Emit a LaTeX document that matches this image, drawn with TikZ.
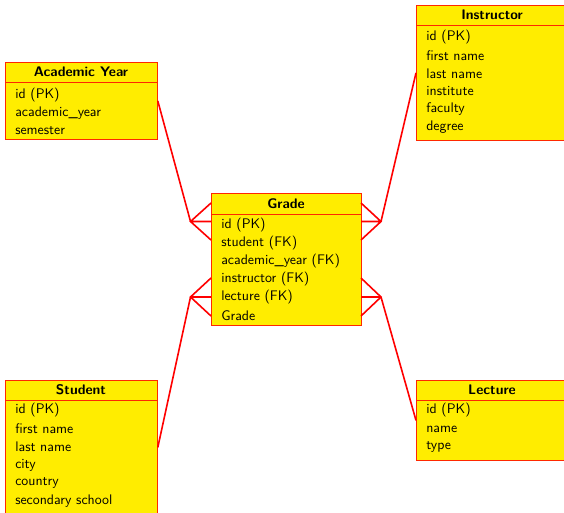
\documentclass[tikz,border=0pt]{standalone}
\usetikzlibrary{calc}
\definecolor{entyellow}{RGB}{255,237,0}
\definecolor{entred}{RGB}{255,40,0}
\begin{document}
\begin{tikzpicture}[x=0.75pt,y=-0.75pt,
  ent/.style={draw=entred, fill=entyellow, line width=0.6pt, anchor=north west, inner sep=0pt, minimum width=114pt},
  divider/.style={draw=entred, line width=0.6pt},
  ttl/.style={font=\fontsize{10.4}{12}\sffamily\bfseries, inner sep=0pt},
  row/.style={font=\fontsize{10.4}{12}\sffamily, anchor=west, inner sep=0pt},
  conn/.style={draw=red, line width=1.2pt}]
\useasboundingbox (0,0) rectangle (564,512);
\clip (0,0) rectangle (564,512);

% Academic Year
\node[ent, minimum height=57.75pt] (ay) at (5,62) {};
\draw[divider] (5,82) -- (157,82);
\node[ttl] (ayt) at (81,72) {Academic Year};
\node[row] (ay1) at (15,95.5) {id (PK)};
\node[row] (ay2) at (15,113.5) {academic\_year};
\node[row] (ay3) at (15,130.5) {semester};

% Instructor
\node[ent, minimum height=101.25pt] (in) at (416,5) {};
\draw[divider] (416,25) -- (568,25);
\node[ttl] (int) at (492,15) {Instructor};
\node[row] (in1) at (426,37.5) {id (PK)};
\node[row] (in2) at (426,55.5) {first name};
\node[row] (in3) at (426,73.5) {last name};
\node[row] (in4) at (426,91.5) {institute};
\node[row] (in5) at (426,109.5) {faculty};
\node[row] (in6) at (426,127.5) {degree};

% Grade
\node[ent, minimum width=112.5pt, minimum height=99pt] (gr) at (211,193) {};
\draw[divider] (211,214) -- (361,214);
\node[ttl] (grt) at (286,204) {Grade};
\node[row] (gr1) at (221,225.5) {id (PK)};
\node[row] (gr2) at (221,243.5) {student (FK)};
\node[row] (gr3) at (221,261.5) {academic\_year (FK)};
\node[row] (gr4) at (221,279.5) {instructor (FK)};
\node[row] (gr5) at (221,297.5) {lecture (FK)};
\node[row] (gr6) at (221,316) {Grade};

% Student
\node[ent, minimum height=100.5pt] (st) at (5,380) {};
\draw[divider] (5,400) -- (157,400);
\node[ttl] (stt) at (81,390) {Student};
\node[row] (st1) at (15,410.5) {id (PK)};
\node[row] (st2) at (15,429) {first name};
\node[row] (st3) at (15,447) {last name};
\node[row] (st4) at (15,465) {city};
\node[row] (st5) at (15,483) {country};
\node[row] (st6) at (15,501) {secondary school};

% Lecture
\node[ent, minimum height=60pt] (le) at (416,380) {};
\draw[divider] (416,400) -- (568,400);
\node[ttl] (let) at (492,390) {Lecture};
\node[row] (le1) at (426,410.5) {id (PK)};
\node[row] (le2) at (426,429) {name};
\node[row] (le3) at (426,447) {type};

% crow's foot points and ends
\coordinate (fa) at (190.5,221.5);
\coordinate (fs) at (190.5,297);
\coordinate (fi) at (381,221.5);
\coordinate (fl) at (381,297);
\coordinate (fa1) at (211,203);
\coordinate (fa2) at (211,221.5);
\coordinate (fa3) at (211,240);
\coordinate (fs1) at (211,278);
\coordinate (fs2) at (211,297);
\coordinate (fs3) at (211,316);
\coordinate (fi1) at (361,203);
\coordinate (fi2) at (361,221.5);
\coordinate (fi3) at (361,240);
\coordinate (fl1) at (361,278);
\coordinate (fl2) at (361,297);
\coordinate (fl3) at (361,316);

\draw[conn] (ay.east) -- (fa);
\draw[conn] (fa1) -- (fa) -- (fa3) (fa) -- (fa2);
\draw[conn] (st.east) -- (fs);
\draw[conn] (fs1) -- (fs) -- (fs3) (fs) -- (fs2);
\draw[conn] (in.west) -- (fi);
\draw[conn] (fi1) -- (fi) -- (fi3) (fi) -- (fi2);
\draw[conn] (le.west) -- (fl);
\draw[conn] (fl1) -- (fl) -- (fl3) (fl) -- (fl2);
\end{tikzpicture}
\end{document}
